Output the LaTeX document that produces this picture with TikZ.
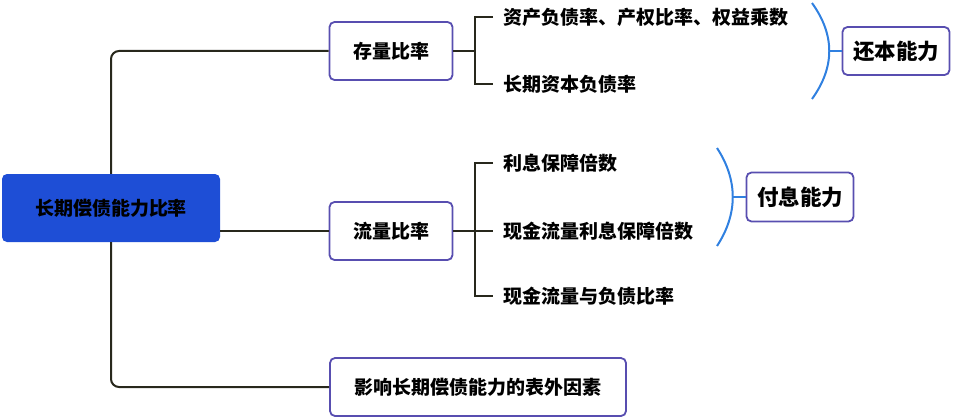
\documentclass[tikz,border=0pt]{standalone}
\usepackage{fontspec}
\setmainfont{Noto Sans CJK SC}
\usetikzlibrary{calc}

\definecolor{rootblue}{RGB}{30,78,214}
\definecolor{boxline}{RGB}{88,78,176}
\definecolor{linkcol}{RGB}{40,40,28}
\definecolor{bracecol}{RGB}{48,128,224}

\tikzset{
    topic/.style={draw=boxline, line width=1.8pt, rounded corners=5pt, fill=white,
        font=\fontsize{19}{20}\selectfont\bfseries, inner sep=0pt},
    leaf/.style={anchor=west, inner xsep=10pt, inner ysep=0pt,
        font=\fontsize{19}{20}\selectfont\bfseries},
    conn/.style={draw=linkcol, line width=2pt},
    brace/.style={draw=bracecol, line width=2pt},
}

\begin{document}
\begin{tikzpicture}[x=1pt, y=-1pt]
    \useasboundingbox (0,0) rectangle (954,420);

    % Root
    \node[fill=rootblue, rounded corners=5pt, minimum width=218pt, minimum height=68pt,
        font=\fontsize{19}{20}\selectfont\bfseries] (root) at (111,208) {长期偿债能力比率};

    % First level
    \node[topic, minimum width=123pt, minimum height=58pt] (stock) at (391,51) {存量比率};
    \node[topic, minimum width=123pt, minimum height=58pt] (flow) at (391,231) {流量比率};
    \node[topic, minimum width=296pt, minimum height=58pt] (ext) at (478,387) {影响长期偿债能力的表外因素};

    \draw[conn, rounded corners=8pt] (stock.west) -| (root.north);
    \draw[conn, rounded corners=8pt] (ext.west) -| (root.south);
    \draw[conn] (flow.west -| root.east) -- (flow.west);

    % Stock ratios
    \node[leaf] (s1) at (493,17) {资产负债率、产权比率、权益乘数};
    \node[leaf] (s2) at (493,84) {长期资本负债率};
    \coordinate (sj) at (475,51);
    \draw[conn] (stock.east) -- (sj);
    \draw[conn] (s1.west) -| (sj) |- (s2.west);

    % Flow ratios
    \node[leaf] (f1) at (493,163) {利息保障倍数};
    \node[leaf] (f2) at (493,231) {现金流量利息保障倍数};
    \node[leaf] (f3) at (493,296) {现金流量与负债比率};
    \coordinate (fj) at (475,231);
    \draw[conn] (flow.east) -- (f2.west);
    \draw[conn] (f1.west) -| (fj) |- (f3.west);

    % Summaries
    \node[topic, minimum width=107pt, minimum height=48pt, font=\fontsize{21.5}{22}\selectfont\bfseries]
        (repay) at (896,51) {还本能力};
    \node[topic, minimum width=107pt, minimum height=49pt, font=\fontsize{21.5}{22}\selectfont\bfseries]
        (interest) at (800,197) {付息能力};

    \coordinate (rb) at (829,51);
    \draw[brace] (812,3) .. controls (835,35) and (835,67) .. (812,99);
    \draw[brace] (rb) -- (repay.west);
    \coordinate (ib) at (733,197);
    \draw[brace] (717,148) .. controls (738,180) and (738,214) .. (717,246);
    \draw[brace] (ib) -- (interest.west);
\end{tikzpicture}
\end{document}
